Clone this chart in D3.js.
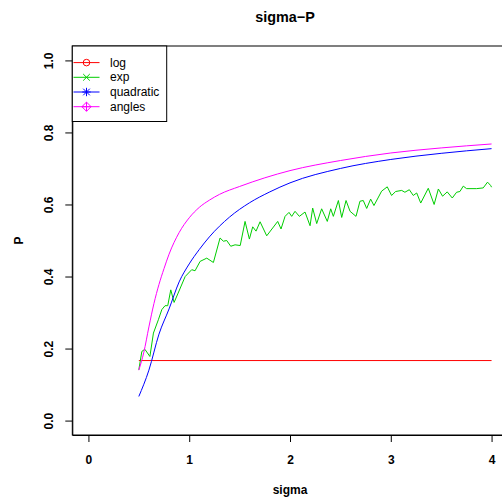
<html>
<head>
    <script src="https://d3js.org/d3.v7.min.js"></script>
</head>
<body style="margin:0">
    <svg id="chart" width="502" height="500"></svg>
    <script>

        // series
        const logX = [0.5, 4]
        const logP = [1 / 6, 1 / 6]

        const expX = [0.5, 0.53, 0.56, 0.61, 0.645, 0.694, 0.728, 0.76, 0.787, 0.817, 0.85, 0.89, 0.96, 1.025, 1.058, 1.108, 1.174, 1.24, 1.306, 1.339, 1.372, 1.412, 1.455, 1.506, 1.554, 1.597, 1.63, 1.663, 1.703, 1.769, 1.878, 1.911, 1.951, 1.99, 2.017, 2.05, 2.093, 2.149, 2.199, 2.225, 2.265, 2.314, 2.37, 2.404, 2.43, 2.48, 2.513, 2.556, 2.596, 2.655, 2.694, 2.727, 2.761, 2.80, 2.833, 2.909, 2.965, 3.008, 3.048, 3.108, 3.14, 3.184, 3.223, 3.257, 3.297, 3.372, 3.43, 3.472, 3.514, 3.56, 3.61, 3.653, 3.686, 3.719, 3.752, 3.851, 3.917, 3.96, 3.99, 4.0]
        const expP = [0.141, 0.192, 0.198, 0.178, 0.243, 0.28, 0.308, 0.319, 0.319, 0.363, 0.328, 0.354, 0.40, 0.419, 0.416, 0.442, 0.451, 0.439, 0.507, 0.498, 0.50, 0.484, 0.488, 0.486, 0.553, 0.504, 0.538, 0.526, 0.552, 0.513, 0.553, 0.532, 0.567, 0.578, 0.567, 0.581, 0.567, 0.579, 0.541, 0.59, 0.547, 0.588, 0.553, 0.588, 0.567, 0.611, 0.564, 0.611, 0.581, 0.567, 0.609, 0.611, 0.589, 0.615, 0.597, 0.637, 0.649, 0.625, 0.636, 0.639, 0.634, 0.641, 0.625, 0.632, 0.604, 0.645, 0.60, 0.643, 0.623, 0.635, 0.618, 0.634, 0.636, 0.651, 0.644, 0.644, 0.646, 0.662, 0.653, 0.648]

        const quadX = [0.5, 0.6, 0.7, 0.8, 0.9, 1.0, 1.1, 1.2, 1.4, 1.6, 1.8, 2.0, 2.5, 3.0, 3.5, 4.0]
        const quadP = [0.067, 0.14, 0.24, 0.31, 0.385, 0.435, 0.475, 0.51, 0.565, 0.605, 0.635, 0.66, 0.70, 0.725, 0.742, 0.755]

        const angX = [0.5, 0.55, 0.6, 0.65, 0.7, 0.75, 0.8, 0.9, 1.0, 1.1, 1.2, 1.3, 1.5, 1.75, 2.0, 2.5, 3.0, 3.5, 4.0]
        const angP = [0.14, 0.19, 0.26, 0.325, 0.378, 0.422, 0.462, 0.522, 0.563, 0.592, 0.612, 0.628, 0.65, 0.674, 0.694, 0.722, 0.743, 0.757, 0.768]

        const seriesNames = ["log", "exp", "quadratic", "angles"]
        const seriesColors = ["#FF0000", "#00CD00", "#0000FF", "#FF00FF"]
        const xTicks = [0, 1, 2, 3, 4]
        const yTicks = [0, 0.2, 0.4, 0.6, 0.8, 1.0]

        const svg = d3.select("#chart")
        const font = "Liberation Sans, Arial, Helvetica, sans-serif"

        const x = d3.scaleLinear().domain([-0.16, 4.16]).range([72.3, 507.7])
        const y = d3.scaleLinear().domain([-0.04, 1.04]).range([435, 46])

        // axes
        const xAxis = svg.append("g")
            .attr("transform", "translate(0,435)")
            .call(d3.axisBottom(x).tickValues(xTicks).tickFormat(d3.format("d")).tickSize(7).tickPadding(13).tickSizeOuter(0))
        const yAxis = svg.append("g")
            .attr("transform", "translate(72.3,0)")
            .call(d3.axisLeft(y).tickValues(yTicks).tickFormat(d3.format(".1f")).tickSize(7).tickSizeOuter(0))

        for (const ax of [xAxis, yAxis]) {
            ax.selectAll("path.domain").attr("stroke", "black")
            ax.selectAll("line").attr("stroke", "black")
            ax.selectAll("text")
                .attr("fill", "black")
                .style("font-family", font)
                .style("font-size", "12px")
                .style("font-weight", "bold")
        }
        yAxis.selectAll("text")
            .attr("transform", "rotate(-90)")
            .attr("x", 0)
            .attr("y", -23.3)
            .attr("dy", null)
            .attr("dominant-baseline", "central")
            .attr("text-anchor", "middle")

        // box
        svg.append("rect")
            .attr("x", 72.3).attr("y", 46)
            .attr("width", 435.4).attr("height", 389)
            .style("fill", "none").style("stroke", "black").style("stroke-width", 1)

        // lines
        const line = d3.line().x(d => x(d[0])).y(d => y(d[1]))
        const smooth = d3.line().x(d => x(d[0])).y(d => y(d[1])).curve(d3.curveMonotoneX)
        const all = [
            { xs: logX, ps: logP, gen: line },
            { xs: expX, ps: expP, gen: line },
            { xs: quadX, ps: quadP, gen: smooth },
            { xs: angX, ps: angP, gen: smooth }
        ]
        all.forEach((s, i) => {
            svg.append("path")
                .datum(d3.zip(s.xs, s.ps))
                .attr("d", s.gen)
                .style("fill", "none")
                .style("stroke", seriesColors[i])
                .style("stroke-width", 1)
        })

        // titles
        svg.append("text").text("sigma\u2212P")
            .attr("x", 285).attr("y", 22)
            .attr("text-anchor", "middle")
            .style("font-family", font).style("font-size", "14.4px").style("font-weight", "bold")
        svg.append("text").text("sigma")
            .attr("x", 290).attr("y", 494)
            .attr("text-anchor", "middle")
            .style("font-family", font).style("font-size", "12px").style("font-weight", "bold")
        svg.append("text").text("P")
            .attr("transform", "translate(22.5,240.5) rotate(-90)")
            .attr("text-anchor", "middle")
            .style("font-family", font).style("font-size", "12px").style("font-weight", "bold")

        // legend
        const legend = svg.append("g")
        legend.append("rect")
            .attr("x", 72.3).attr("y", 46)
            .attr("width", 94.4).attr("height", 75.5)
            .style("fill", "white").style("stroke", "black").style("stroke-width", 1)

        seriesNames.forEach((name, i) => {
            const ly = 62.6 + i * 14.7
            const c = seriesColors[i]
            const g = legend.append("g").style("stroke", c).style("fill", "none")
            g.append("line").attr("x1", 73.5).attr("x2", 99.5).attr("y1", ly).attr("y2", ly)
            const cx = 86.5, r = 3.3
            if (i == 0) {
                g.append("circle").attr("cx", cx).attr("cy", ly).attr("r", r)
            }
            if (i == 1 || i == 2) {
                g.append("path").attr("d", `M${cx - r},${ly - r}L${cx + r},${ly + r}M${cx - r},${ly + r}L${cx + r},${ly - r}`)
            }
            if (i == 2) {
                g.append("path").attr("d", `M${cx - 4.2},${ly}L${cx + 4.2},${ly}M${cx},${ly - 4.2}L${cx},${ly + 4.2}`)
            }
            if (i == 3) {
                const d = 4.6
                g.append("path").attr("d", `M${cx},${ly - d}L${cx + d},${ly}L${cx},${ly + d}L${cx - d},${ly}Z M${cx - d},${ly}L${cx + d},${ly}M${cx},${ly - d}L${cx},${ly + d}`)
            }
            legend.append("text").text(name)
                .attr("x", 110).attr("y", ly)
                .attr("dominant-baseline", "central")
                .style("font-family", font).style("font-size", "12px")
        })

    </script>
</body>
</html>
